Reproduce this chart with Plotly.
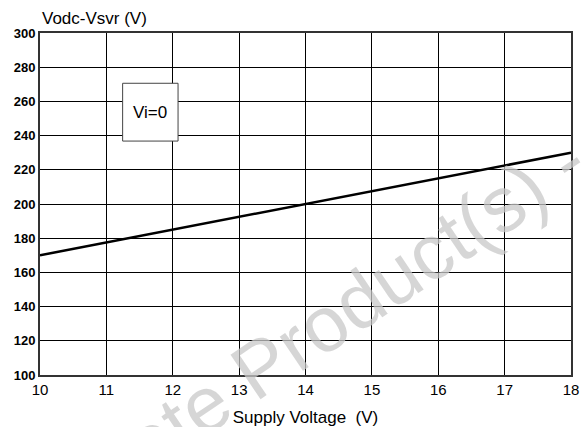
import plotly.graph_objects as go

supply_voltage = [10, 12, 14, 16, 18]
vodc_vsvr = [170, 185, 200, 215, 230]
x_ticks = [10, 11, 12, 13, 14, 15, 16, 17, 18]
y_ticks = [100, 120, 140, 160, 180, 200, 220, 240, 260, 280, 300]

FONT = "Liberation Sans, Arial, sans-serif"

fig = go.Figure()
fig.add_trace(go.Scatter(x=supply_voltage, y=vodc_vsvr, mode="lines",
                         line=dict(color="black", width=2.5), showlegend=False,
                         hoverinfo="skip"))

fig.add_shape(type="rect", xref="x", yref="y", x0=11.245, x1=12.08, y0=236.8, y1=270.6,
              fillcolor="white", line=dict(color="#444", width=1), layer="above")
fig.add_annotation(x=11.66, y=253.7, xref="x", yref="y", text="Vi=0", showarrow=False,
                   font=dict(family=FONT, size=17, color="black"))

fig.add_annotation(x=(567 - 40) / 531, y=(375 - 160) / 342, xref="paper", yref="paper",
                   xanchor="center", yanchor="middle",
                   text="Obsolete Product(s) - Obsolete Product(s)", showarrow=False,
                   textangle=-34, font=dict(family=FONT, size=78, color="rgba(200,200,200,0.75)"))

fig.add_annotation(x=0, y=1, xref="paper", yref="paper", xshift=0, yshift=3,
                   text="Vodc-Vsvr (V)", showarrow=False, xanchor="left", yanchor="bottom",
                   font=dict(family=FONT, size=17, color="black"))

fig.update_layout(
    width=581, height=427,
    margin=dict(l=40, r=10, t=33, b=52),
    paper_bgcolor="white", plot_bgcolor="white",
    font=dict(family=FONT, color="black"),
    xaxis=dict(range=[10, 18], tickvals=x_ticks, ticktext=[str(v) for v in x_ticks],
               showgrid=True, gridcolor="black", gridwidth=1, zeroline=False,
               showline=True, linecolor="#333", linewidth=2, mirror=True, automargin=False,
               ticks="", ticklen=0, tickfont=dict(size=15, family=FONT),
               title=dict(text="Supply Voltage  (V)", font=dict(size=17, family=FONT), standoff=14)),
    yaxis=dict(range=[100, 300], tickvals=y_ticks,
               ticktext=["<b>%d</b>" % v for v in y_ticks], automargin=False,
               showgrid=True, gridcolor="black", gridwidth=1, zeroline=False,
               showline=True, linecolor="#333", linewidth=2, mirror=True,
               ticks="", tickfont=dict(size=13, family=FONT)),
)

fig.write_html("out.html", post_script="document.body.style.margin='0px';",
               config={"displayModeBar": False})
